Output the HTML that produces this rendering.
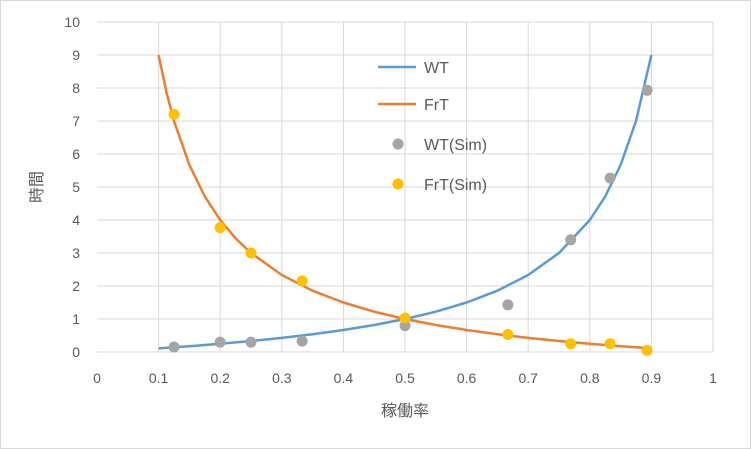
<!DOCTYPE html>
<html><head><meta charset="utf-8"><style>
html,body{margin:0;padding:0;background:#fff}
svg{display:block}
text{font-family:"Liberation Sans","Noto Sans CJK JP",sans-serif;fill:#595959}
</style></head><body>
<svg id="chart" width="751" height="449" xmlns="http://www.w3.org/2000/svg">
<rect x="0.5" y="0.5" width="750" height="448" fill="#fff" stroke="#d9d9d9"/>
<g id="grid"></g><g id="axes"></g><g id="series"></g>
<text x="42" y="187" font-size="16" text-anchor="middle" transform="rotate(-90 42 187)">時間</text>
<text x="405" y="416" font-size="16" text-anchor="middle">稼働率</text>
<g id="legend"></g>
</svg>
<script>
const xTicks=[0,0.1,0.2,0.3,0.4,0.5,0.6,0.7,0.8,0.9,1];
const yTicks=[0,1,2,3,4,5,6,7,8,9,10];
const wtX=[0.1,0.15,0.2,0.25,0.3,0.35,0.4,0.45,0.5,0.55,0.6,0.65,0.7,0.75,0.8,0.825,0.85,0.875,0.9];
const wtY=[0.111,0.176,0.25,0.333,0.429,0.538,0.667,0.818,1,1.222,1.5,1.857,2.333,3,4,4.714,5.667,7,9];
const frX=[0.1,0.1125,0.125,0.15,0.175,0.2,0.225,0.25,0.3,0.35,0.4,0.45,0.5,0.55,0.6,0.65,0.7,0.75,0.8,0.85,0.9];
const frY=[9,7.89,7,5.667,4.714,4,3.444,3,2.333,1.857,1.5,1.222,1,0.818,0.667,0.538,0.429,0.333,0.25,0.176,0.111];
const simX=[0.125,0.2,0.25,0.333,0.5,0.667,0.769,0.833,0.893];
const wtSimY=[0.15,0.3,0.3,0.33,0.8,1.43,3.4,5.27,7.93];
const frSimY=[7.2,3.77,3.0,2.15,1.03,0.53,0.25,0.25,0.05];
const NS='http://www.w3.org/2000/svg';
const X=v=>97+v*616, Y=v=>352-v*33;
function mk(p,t,a){const e=document.createElementNS(NS,t);for(const k in a)e.setAttribute(k,a[k]);p.appendChild(e);return e;}
const grid=document.getElementById('grid'),axes=document.getElementById('axes'),ser=document.getElementById('series'),leg=document.getElementById('legend');
xTicks.forEach(t=>{if(t>0){const l=mk(grid,'line',{x1:X(t),x2:X(t),y1:Y(0),y2:Y(10),stroke:'#d9d9d9'});

}
const tx=mk(axes,'text',{x:X(t),y:383,'font-size':14,'text-anchor':'middle'});tx.textContent=t;

});
yTicks.forEach(t=>{const l=mk(grid,'line',{x1:X(0),x2:X(1),y1:Y(t),y2:Y(t),stroke:'#d9d9d9'});


const tx=mk(axes,'text',{x:80,y:Y(t)+5,'font-size':14,'text-anchor':'end'});tx.textContent=t;

});
function line(xs,ys,c,n){const p=mk(ser,'polyline',{points:xs.map((x,i)=>X(x)+','+Y(ys[i])).join(' '),fill:'none',stroke:c,'stroke-width':2.5,'stroke-linejoin':'round'});

}
line(wtX,wtY,'#5B9BD5','wt-line');line(frX,frY,'#ED7D31','frt-line');
function pts(ys,c,n){ys.forEach((y,i)=>{const e=mk(ser,'circle',{cx:X(simX[i]),cy:Y(y),r:5.5,fill:c});

});}
pts(wtSimY,'#A5A5A5','wt-sim-point');pts(frSimY,'#FFC000','frt-sim-point');
const items=[['WT','#5B9BD5',0,67],['FrT','#ED7D31',0,104],['WT(Sim)','#A5A5A5',1,144],['FrT(Sim)','#FFC000',1,184]];
items.forEach(it=>{let m;if(it[2])m=mk(leg,'circle',{cx:398,cy:it[3],r:5.5,fill:it[1]});else m=mk(leg,'line',{x1:378,x2:416,y1:it[3],y2:it[3],stroke:it[1],'stroke-width':2.5});


const t=mk(leg,'text',{x:424,y:it[3]+6,'font-size':16});t.textContent=it[0];

});
</script>
</body></html>
